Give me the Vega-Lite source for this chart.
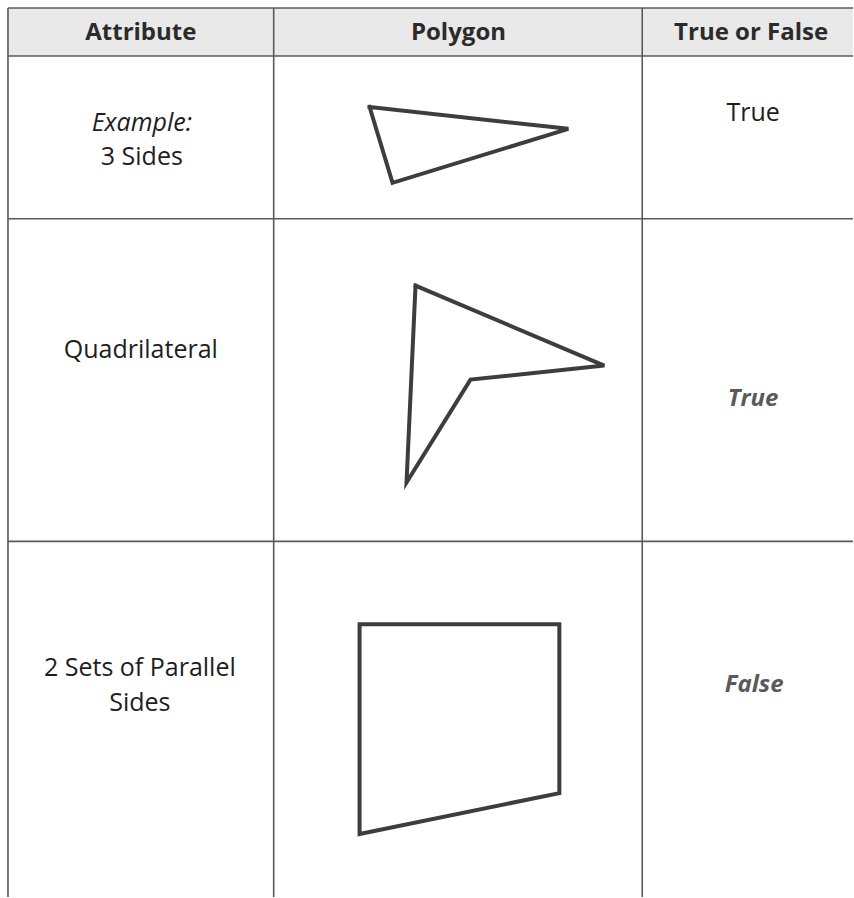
{
  "$schema": "https://vega.github.io/schema/vega-lite/v6.json",
  "width": 854,
  "height": 898,
  "padding": 0,
  "autosize": {"type": "fit", "contains": "padding"},
  "background": "white",
  "config": {"view": {"stroke": null}},
  "datasets": {
    "header": [{"x": 8, "x2": 854, "y": 8, "y2": 56}],
    "grid": [
      {"x": 8, "x2": 854, "y": 8, "y2": 8},
      {"x": 8, "x2": 854, "y": 56, "y2": 56},
      {"x": 8, "x2": 854, "y": 219, "y2": 219},
      {"x": 8, "x2": 854, "y": 542, "y2": 542},
      {"x": 8, "x2": 8, "y": 8, "y2": 898},
      {"x": 274, "x2": 274, "y": 8, "y2": 898},
      {"x": 643, "x2": 643, "y": 8, "y2": 898}
    ],
    "shapes": [
      {"shape": "triangle", "i": 0, "x": 370, "y": 107},
      {"shape": "triangle", "i": 1, "x": 569, "y": 129},
      {"shape": "triangle", "i": 2, "x": 393, "y": 183},
      {"shape": "triangle", "i": 3, "x": 370, "y": 107},
      {"shape": "dart", "i": 0, "x": 416, "y": 286},
      {"shape": "dart", "i": 1, "x": 605, "y": 366},
      {"shape": "dart", "i": 2, "x": 471, "y": 380},
      {"shape": "dart", "i": 3, "x": 407, "y": 483},
      {"shape": "dart", "i": 4, "x": 416, "y": 286},
      {"shape": "quad", "i": 0, "x": 360, "y": 625},
      {"shape": "quad", "i": 1, "x": 560, "y": 625},
      {"shape": "quad", "i": 2, "x": 560, "y": 794},
      {"shape": "quad", "i": 3, "x": 360, "y": 835},
      {"shape": "quad", "i": 4, "x": 360, "y": 625}
    ],
    "labels": [
      {"role": "head", "text": "Attribute", "x": 141, "y": 33},
      {"role": "head", "text": "Polygon", "x": 459, "y": 33},
      {"role": "head", "text": "True or False", "x": 752, "y": 33},
      {"role": "example", "text": "Example:", "x": 142, "y": 123},
      {"role": "body", "text": "3 Sides", "x": 142, "y": 157},
      {"role": "body", "text": "True", "x": 754, "y": 113},
      {"role": "body", "text": "Quadrilateral", "x": 141, "y": 350},
      {"role": "answer", "text": "True", "x": 754, "y": 399},
      {"role": "body", "text": "2 Sets of Parallel", "x": 140, "y": 669},
      {"role": "body", "text": "Sides", "x": 140, "y": 704},
      {"role": "answer", "text": "False", "x": 755, "y": 686}
    ]
  },
  "encoding": {
    "x": {"type": "quantitative", "scale": {"domain": [0, 854], "nice": false, "zero": false}, "axis": null},
    "y": {"type": "quantitative", "scale": {"domain": [0, 898], "nice": false, "zero": false, "reverse": true}, "axis": null}
  },
  "layer": [
    {
      "data": {"name": "header"},
      "mark": {"type": "rect", "color": "#e9e9e9"},
      "encoding": {
        "x": {"field": "x", "type": "quantitative"},
        "x2": {"field": "x2"},
        "y": {"field": "y", "type": "quantitative"},
        "y2": {"field": "y2"}
      }
    },
    {
      "data": {"name": "grid"},
      "mark": {"type": "rule", "color": "#5a5a5a", "strokeWidth": 1.6},
      "encoding": {
        "x": {"field": "x", "type": "quantitative"},
        "x2": {"field": "x2"},
        "y": {"field": "y", "type": "quantitative"},
        "y2": {"field": "y2"}
      }
    },
    {
      "data": {"name": "shapes"},
      "mark": {"type": "line", "color": "#3d3d3d", "strokeWidth": 4, "strokeJoin": "miter", "strokeCap": "square"},
      "encoding": {
        "x": {"field": "x", "type": "quantitative"},
        "y": {"field": "y", "type": "quantitative"},
        "detail": {"field": "shape"},
        "order": {"field": "i", "type": "quantitative"}
      }
    },
    {
      "data": {"name": "labels"},
      "transform": [{"filter": "datum.role === 'head'"}],
      "mark": {"type": "text", "font": "Open Sans", "fontSize": 24, "fontWeight": "bold", "color": "#2b2b2b", "baseline": "middle", "align": "center"},
      "encoding": {
        "x": {"field": "x", "type": "quantitative"},
        "y": {"field": "y", "type": "quantitative"},
        "text": {"field": "text"}
      }
    },
    {
      "data": {"name": "labels"},
      "transform": [{"filter": "datum.role === 'body'"}],
      "mark": {"type": "text", "font": "Open Sans", "fontSize": 25, "color": "#1e1e1e", "baseline": "middle", "align": "center"},
      "encoding": {
        "x": {"field": "x", "type": "quantitative"},
        "y": {"field": "y", "type": "quantitative"},
        "text": {"field": "text"}
      }
    },
    {
      "data": {"name": "labels"},
      "transform": [{"filter": "datum.role === 'example'"}],
      "mark": {"type": "text", "font": "Open Sans", "fontSize": 25, "fontStyle": "italic", "color": "#1e1e1e", "baseline": "middle", "align": "center"},
      "encoding": {
        "x": {"field": "x", "type": "quantitative"},
        "y": {"field": "y", "type": "quantitative"},
        "text": {"field": "text"}
      }
    },
    {
      "data": {"name": "labels"},
      "transform": [{"filter": "datum.role === 'answer'"}],
      "mark": {"type": "text", "font": "Open Sans", "fontSize": 24, "fontStyle": "italic", "fontWeight": "bold", "color": "#5a5a5a", "baseline": "middle", "align": "center"},
      "encoding": {
        "x": {"field": "x", "type": "quantitative"},
        "y": {"field": "y", "type": "quantitative"},
        "text": {"field": "text"}
      }
    }
  ]
}
